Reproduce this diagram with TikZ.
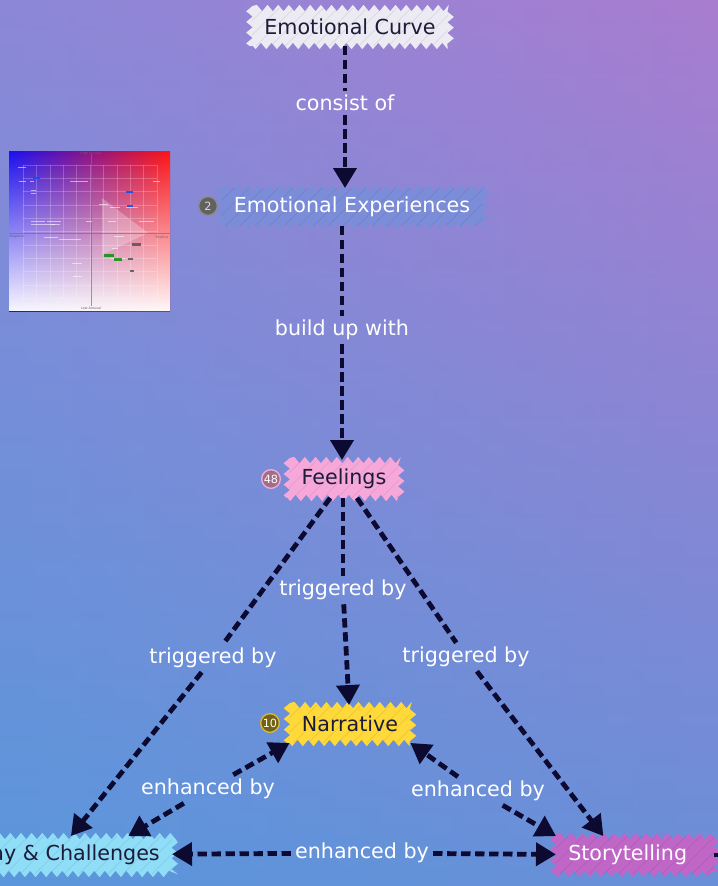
\documentclass[tikz,border=0pt]{standalone}
\usepackage{fontspec}
\setmainfont{DejaVu Sans}
\usetikzlibrary{arrows.meta,decorations.pathmorphing,calc,fadings}

\definecolor{bgTL}{HTML}{8C88D8}
\definecolor{bgTR}{HTML}{A97DD0}
\definecolor{bgBL}{HTML}{5A97DC}
\definecolor{bgBR}{HTML}{6A8FD8}
\definecolor{arrowc}{HTML}{0C0A30}
\definecolor{inkc}{HTML}{1C1B3A}
\definecolor{curvefill}{HTML}{ECEAF2}
\definecolor{expfill}{HTML}{7B8DD8}
\definecolor{feelfill}{HTML}{F7A8DA}
\definecolor{feelbadge}{HTML}{9E7088}
\definecolor{narrfill}{HTML}{FFD83A}
\definecolor{gamefill}{HTML}{8FDDF7}
\definecolor{storyfill}{HTML}{BF66C6}
\definecolor{thBlue}{HTML}{1A10F0}
\definecolor{thRed}{HTML}{FF1414}

\tikzfading[name=lr, left color=transparent!100, right color=transparent!0]
\tikzfading[name=tb, top color=transparent!100, middle color=transparent!80, bottom color=transparent!3]

\pgfdeclarelayer{canvas}
\pgfdeclarelayer{blobs}
\pgfsetlayers{canvas,blobs,main}

\tikzset{
  nodetext/.style={font=\fontsize{15.5}{18}\selectfont, inner xsep=9pt, inner ysep=6pt, minimum height=28pt},
  lbl/.style={text=white, font=\fontsize{15.5}{18}\selectfont, inner sep=3pt},
  edge/.style={draw=arrowc, line width=3.6pt, dash pattern=on 7pt off 3.5pt},
  tip/.style={-{Triangle[length=15pt,width=17pt]}},
  badge/.style={circle, line width=1pt, minimum size=14pt, inner sep=0pt, font=\fontsize{8.5}{9}\selectfont}
}

% scribbled node: text node on top, jagged filled patch with hatching behind it
\newcommand\drawblob[6][]{%
  \node[nodetext, text=#5, #1] (#2) at #3 {#6};
  \begin{pgfonlayer}{blobs}
    \fill[#4, decorate, decoration={zigzag, segment length=8pt, amplitude=2.4pt}]
      ($(#2.south west)+(-2pt,0)$) rectangle ($(#2.north east)+(2pt,0)$);
    \begin{scope}
      \clip (#2.south west) rectangle (#2.north east);
      \foreach \k in {-4,...,24}
        \draw[#4!70!black, opacity=.3, line width=.4pt]
          ($(#2.south west)+(\k*11pt-30pt,0)$) -- ++(40pt,40pt);
    \end{scope}
  \end{pgfonlayer}}

\begin{document}
\begin{tikzpicture}[x=0.75pt, y=-0.75pt]
\useasboundingbox (0,0) rectangle (718,886);

% page background
\begin{pgfonlayer}{canvas}
  \shade[top color=bgTL, bottom color=bgBL] (0,0) rectangle (718,886);
  \shade[top color=bgTR, bottom color=bgBR, path fading=lr] (0,0) rectangle (718,886);
\end{pgfonlayer}

% small arousal/valence chart
\shade[left color=thBlue, right color=thRed] (9,151) rectangle (170,311);
\fill[white, path fading=tb] (9,151) rectangle (170,311);
\foreach \i in {0,...,10} {
  \draw[white, opacity=.22, line width=.3pt] ({23+\i*13.4},165) -- ({23+\i*13.4},298);
  \draw[white, opacity=.22, line width=.3pt] (23,{165+\i*13.3}) -- (157,{165+\i*13.3});
}
\fill[white, opacity=.25] (102,198) -- (148,233) -- (102,255) -- cycle;
\draw[black!55, opacity=.7, line width=.4pt] (9,233) -- (170,233);
\draw[black!55, opacity=.7, line width=.4pt] (91,154) -- (91,306);
\foreach \a/\b/\w in {18/167/8, 19/181/7, 30/181/4, 70/181/18, 153/181/7, 31/190/5, 31/193/5,
  99/204/9, 110/207/10, 126/207/12, 31/221/14, 31/224/24, 47/221/14, 51/224/9, 86/221/6,
  108/221/8, 139/221/15, 44/237/14, 59/239/22, 114/236/10, 112/248/6, 111/258/14, 72/263/10,
  73/276/9}
  \fill[white, opacity=.55] (\a,\b) rectangle ++(\w,1.3);
\fill[blue!70!cyan, opacity=.8] (33,177) rectangle ++(7,2);
\fill[blue!70!cyan, opacity=.8] (126,191) rectangle ++(7,2);
\fill[blue!70!cyan, opacity=.8] (127,205) rectangle ++(6,2);
\fill[green!55!black, opacity=.8] (104,254) rectangle ++(10,3);
\fill[green!55!black, opacity=.8] (114,258) rectangle ++(8,3);
\fill[black!70, opacity=.8] (132,243) rectangle ++(9,3);
\fill[black!70, opacity=.8] (128,258) rectangle ++(5,2);
\fill[black!70, opacity=.8] (130,270) rectangle ++(4,2);
\node[font=\fontsize{2.5}{3}\selectfont, text=black!60] (thTop) at (91,154) {High Arousal};
\node[font=\fontsize{2.5}{3}\selectfont, text=black!60] (thBot) at (91,308) {Low Arousal};
\node[font=\fontsize{2.5}{3}\selectfont, text=black!60] (thLeft) at (17,237) {Negative};
\node[font=\fontsize{2.5}{3}\selectfont, text=black!60] (thRight) at (162,237) {Positive};

% concepts
\drawblob{EC}{(350,27)}{curvefill}{inkc}{Emotional Curve}
\drawblob{EE}{(352,207)}{expfill}{white}{Emotional Experiences}
\drawblob{F}{(344,479)}{feelfill}{inkc}{Feelings}
\drawblob{N}{(350,724)}{narrfill}{inkc}{Narrative}
\drawblob[anchor=east]{G}{(172,855)}{gamefill}{inkc}{Gameplay \& Challenges}
\drawblob[anchor=west, text width=100pt]{S}{(556,855)}{storyfill}{white}{Storytelling}

% count badges
\node[badge, fill=black!62, draw=black!45, text=black!15] (bEE) at (208,206) {2};
\node[badge, fill=feelbadge, draw=feelfill, text=white!90!pink] (bF) at (271,479) {48};
\node[badge, fill=narrfill!45!black, draw=narrfill!85!black, text=white!90!yellow] (bN) at (270,723) {10};

% connector labels
\node[lbl] (l1) at (345,103) {consist of};
\node[lbl] (l2) at (342,330) {build up with};
\node[lbl] (l3) at (343,590) {triggered by};
\node[lbl] (l4) at (213,658) {triggered by};
\node[lbl] (l5) at (466,657) {triggered by};
\node[lbl] (l6) at (208,789) {enhanced by};
\node[lbl] (l7) at (478,791) {enhanced by};
\node[lbl] (l8) at (362,853) {enhanced by};

\coordinate (Gin) at ($(G.north east)!0.37!(G.north west)$);
\coordinate (Gup) at ($(G.north east)!0.16!(G.north west)$);
\coordinate (Sin) at ($(S.north west)!0.3!(S.north east)$);
\coordinate (Sout) at (760,855);

% connectors
\draw[edge] (EC.south -| l1) -- (l1);
\draw[edge, tip] (l1) -- (l1 |- EE.north);
\draw[edge] (EE.south -| l2) -- (l2);
\draw[edge, tip] (l2) -- (l2 |- F.north);
\draw[edge] (F.south -| l3) -- (l3);
\draw[edge, tip] (l3) -- (N);
\draw[edge] (F) -- (l4);
\draw[edge, tip] (l4) -- (Gin);
\draw[edge] (F) -- (l5);
\draw[edge, tip] (l5) -- (Sin);
\draw[edge, tip] (l6) -- (N.south west);
\draw[edge, tip] (l6) -- (Gup);
\draw[edge, tip] (l7) -- (N.south east);
\draw[edge, tip] (l7) -- (S.north west);
\draw[edge, tip] (l8) -- (G);
\draw[edge, tip] (l8) -- (S);
\draw[edge] (S) -- (Sout);
\end{tikzpicture}
\end{document}
